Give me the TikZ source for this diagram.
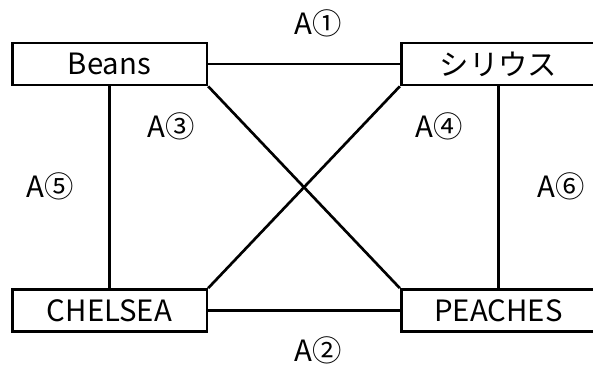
\documentclass[tikz,border=0pt]{standalone}
\usepackage{fontspec}
\setmainfont{Noto Sans CJK JP}
\usepackage{tikz}
\usetikzlibrary{positioning}

\tikzset{
  entity/.style={rectangle, draw=black, line width=2pt, fill=white,
                 minimum width=146pt, minimum height=31.5pt, inner sep=0pt,
                 font=\fontsize{22}{26}\selectfont},
  link/.style={line width=2pt},
  rel/.style={font=\fontsize{22}{26}\selectfont, inner sep=0pt}
}

\begin{document}
\begin{tikzpicture}[x=0.75pt, y=-0.75pt]
\useasboundingbox (0,0) rectangle (593,367);
% entities
\node[entity] (beans)   at (109.5,64)  {Beans};
\node[entity] (sirius)  at (498.5,64)  {シリウス};
\node[entity] (chelsea) at (109.5,310.5) {CHELSEA};
\node[entity] (peaches) at (498.5,310.5) {PEACHES};
% relations
\draw[link] (beans.east) -- (sirius.west);
\draw[link] (chelsea.east) -- (peaches.west);
\draw[link] (beans.south) -- (chelsea.north);
\draw[link] (sirius.south) -- (peaches.north);
\draw[link] (beans.south east) -- (peaches.north west);
\draw[link] (sirius.south west) -- (chelsea.north east);
% labels
\node[rel] (r1) at (318,23)  {A①};
\node[rel] (r2) at (318,350) {A②};
\node[rel] (r3) at (171,126) {A③};
\node[rel] (r4) at (439,126) {A④};
\node[rel] (r5) at (50,186)  {A⑤};
\node[rel] (r6) at (561,186) {A⑥};
\end{tikzpicture}
\end{document}
